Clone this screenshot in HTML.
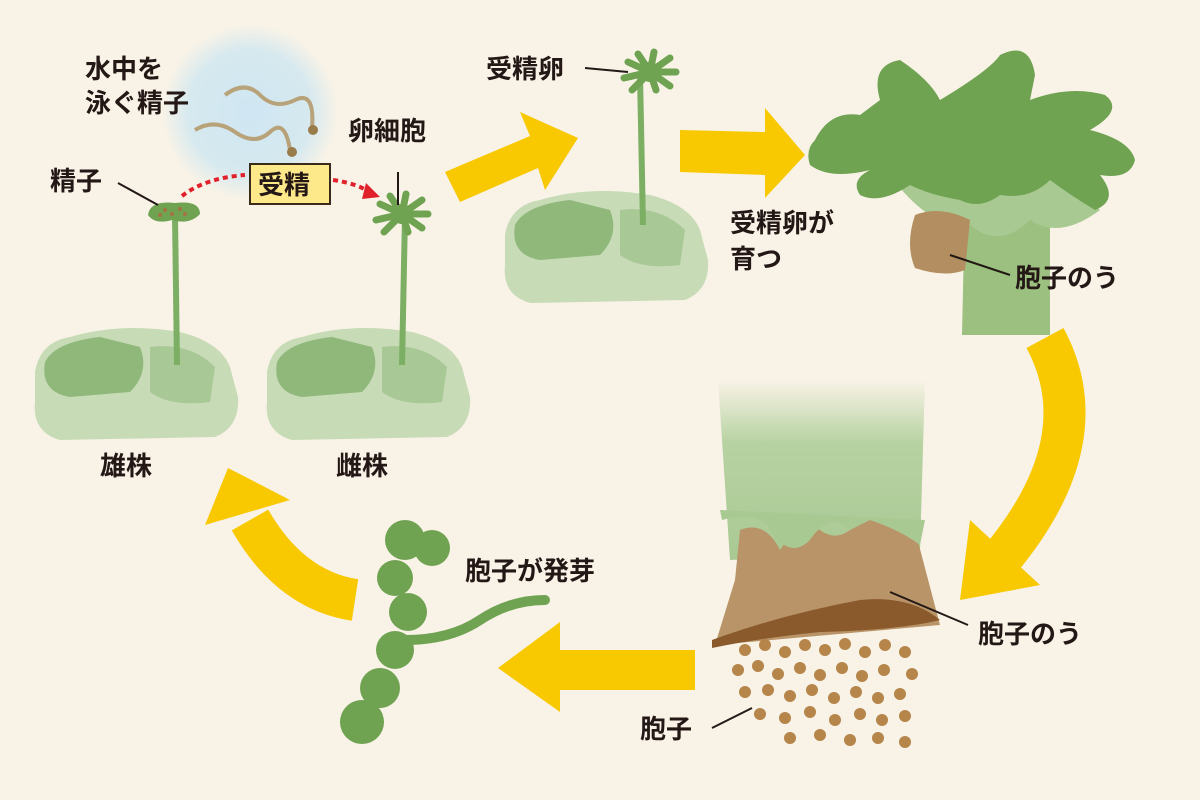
<!DOCTYPE html>
<html><head><meta charset="utf-8"><style>
html,body{margin:0;padding:0;background:#f9f3e7}
svg{display:block}
text{font-family:"Liberation Sans","Noto Sans CJK JP",sans-serif;font-size:26px;fill:#231815;font-weight:bold}
</style></head><body>
<svg width="1200" height="800" viewBox="0 0 1200 800" xmlns="http://www.w3.org/2000/svg">
<defs>
<radialGradient id="blue" cx="50%" cy="50%" r="50%">
<stop offset="0" stop-color="#cfe6f2"/><stop offset="0.7" stop-color="#d6e9ef"/><stop offset="1" stop-color="#f9f3e7"/>
</radialGradient>
<linearGradient id="fade" x1="0" y1="0" x2="0" y2="1">
<stop offset="0" stop-color="#f9f3e7"/><stop offset="0.35" stop-color="#b7d2a2"/><stop offset="1" stop-color="#a9c993"/>
</linearGradient>
<g id="star">
<path d="M0,-4 L-22,-14 M0,-4 L-12,-22 M0,-4 L4,-24 M0,-4 L20,-18 M0,-4 L26,-4 M0,-4 L20,10 M0,-4 L-26,2 M0,-4 L-18,14 M0,-4 L6,14" stroke="#6fa352" stroke-width="7" stroke-linecap="round"/>
<circle cx="0" cy="-4" r="10" fill="#6fa352"/>
</g>
<g id="thallus">
<path d="M-5,50 Q0,20 30,15 Q80,0 140,10 Q180,20 190,45 L198,75 Q200,105 175,115 L20,118 Q-8,110 -5,80 Z" fill="#c7dbb6"/>
<path d="M5,40 Q15,20 60,15 L100,25 Q110,50 90,70 L30,75 Q0,70 5,40 Z" fill="#8fb87a"/>
<path d="M110,25 Q150,20 175,45 L170,80 Q130,85 110,70 Z" fill="#a8c895"/>
</g>
</defs>
<rect width="1200" height="800" fill="#f9f3e7"/>
<circle cx="250" cy="112" r="88" fill="url(#blue)"/>
<path d="M225,95 Q245,80 260,95 T295,100 T312,128" stroke="#b8a27a" stroke-width="4" fill="none"/>
<circle cx="313" cy="130" r="5" fill="#9a7b4a"/>
<path d="M195,130 Q215,118 235,132 T270,132 T290,150" stroke="#b8a27a" stroke-width="4" fill="none"/>
<circle cx="292" cy="152" r="5" fill="#9a7b4a"/>
<use href="#thallus" x="40" y="322"/>
<use href="#thallus" x="272" y="322"/>
<path d="M175,215 L177,365" stroke="#7cae63" stroke-width="6"/>
<path d="M405,215 L402,365" stroke="#7cae63" stroke-width="6"/>
<path d="M148,215 Q150,200 175,203 Q200,200 200,214 Q190,225 172,220 Q155,225 148,215Z" fill="#6fa352"/>
<g fill="#a5733f"><circle cx="165" cy="210" r="2"/><circle cx="172" cy="214" r="2"/><circle cx="180" cy="209" r="2"/><circle cx="185" cy="214" r="2"/><circle cx="160" cy="215" r="2"/></g>
<use href="#star" x="402" y="218"/>
<path d="M182,196 Q205,178 245,175" stroke="#e0212b" stroke-width="4" stroke-dasharray="5,4" fill="none"/>
<path d="M333,180 Q355,183 370,192" stroke="#e0212b" stroke-width="4" stroke-dasharray="5,4" fill="none"/>
<path d="M366,183 L380,197 L362,199Z" fill="#e0212b"/>
<rect x="250" y="164" width="80" height="40" fill="#fde98a" stroke="#3a2a1a" stroke-width="2"/>
<text x="258" y="194">受精</text>
<line x1="398" y1="172" x2="398" y2="205" stroke="#231815" stroke-width="2"/>
<line x1="118" y1="183" x2="158" y2="205" stroke="#231815" stroke-width="2"/>
<text x="85" y="78">水中を</text>
<text x="85" y="112">泳ぐ精子</text>
<text x="50" y="190">精子</text>
<text x="348" y="140">卵細胞</text>
<text x="100" y="475">雄株</text>
<text x="336" y="475">雌株</text>
<path d="M445,172 L530,136 L520,112 L578,138 L545,190 L538,168 L460,202Z" fill="#f8c800"/>
<use href="#thallus" x="510" y="185"/>
<path d="M640,75 L643,225" stroke="#7cae63" stroke-width="6"/>
<use href="#star" x="650" y="76"/>
<line x1="585" y1="68" x2="628" y2="72" stroke="#231815" stroke-width="2"/>
<text x="486" y="78">受精卵</text>
<path d="M680,130 L765,132 L765,108 L805,155 L765,198 L765,175 L680,172Z" fill="#f8c800"/>
<path d="M965,200 L1050,200 L1050,335 L962,335Z" fill="#9cc080"/>
<path d="M890,175 Q930,230 970,225 Q1000,250 1030,220 Q1060,240 1100,210 L1060,170Z" fill="#a9c993"/>
<path d="M815,140 Q830,110 860,115 L880,100 Q870,65 900,60 Q930,80 940,100 Q990,70 1000,55 Q1030,40 1035,75 L1030,100 Q1070,85 1105,95 Q1125,110 1090,130 Q1130,140 1135,160 Q1130,180 1100,175 Q1120,200 1095,210 Q1070,195 1050,180 Q1030,200 1000,195 Q980,210 960,200 Q930,195 910,185 Q880,205 860,195 Q850,180 870,170 Q830,180 810,165 Q805,150 815,140Z" fill="#6fa352"/>
<path d="M915,215 Q940,205 970,220 L965,270 Q945,278 915,268 Q905,245 915,215Z" fill="#b28e60"/>
<line x1="950" y1="255" x2="1010" y2="275" stroke="#231815" stroke-width="2"/>
<text x="730" y="232">受精卵が</text>
<text x="730" y="268">育つ</text>
<text x="1015" y="287">胞子のう</text>
<path d="M1045,338 Q1100,440 1000,560" stroke="#f8c800" stroke-width="42" fill="none"/>
<path d="M970,520 L1040,585 L960,600Z" fill="#f8c800"/>
<path d="M718,380 L925,380 L920,550 L730,560Z" fill="url(#fade)"/>
<path d="M740,530 Q765,520 780,550 Q800,520 820,530 Q840,545 860,520 Q880,515 915,530 L940,625 L715,645 L735,580Z" fill="#b89468"/>
<path d="M722,520 Q760,510 770,530 Q790,560 810,540 Q830,510 850,530 L870,520 Q900,530 920,545 L925,520 L720,510Z" fill="#a9c993"/>
<path d="M712,640 Q780,615 860,600 Q910,595 940,620 Q900,630 820,632 Q760,638 712,648Z" fill="#8a5a2c"/>
<g fill="#b5854a">
<circle cx="745" cy="650" r="6"/><circle cx="765" cy="645" r="6"/><circle cx="785" cy="652" r="6"/><circle cx="805" cy="645" r="6"/><circle cx="825" cy="650" r="6"/><circle cx="845" cy="644" r="6"/><circle cx="865" cy="652" r="6"/><circle cx="885" cy="645" r="6"/><circle cx="905" cy="652" r="6"/>
<circle cx="738" cy="670" r="6"/><circle cx="758" cy="666" r="6"/><circle cx="778" cy="674" r="6"/><circle cx="800" cy="668" r="6"/><circle cx="820" cy="675" r="6"/><circle cx="842" cy="668" r="6"/><circle cx="862" cy="676" r="6"/><circle cx="884" cy="670" r="6"/><circle cx="912" cy="674" r="6"/>
<circle cx="745" cy="692" r="6"/><circle cx="768" cy="690" r="6"/><circle cx="790" cy="696" r="6"/><circle cx="812" cy="690" r="6"/><circle cx="834" cy="698" r="6"/><circle cx="856" cy="692" r="6"/><circle cx="878" cy="698" r="6"/><circle cx="900" cy="694" r="6"/>
<circle cx="760" cy="714" r="6"/><circle cx="785" cy="718" r="6"/><circle cx="810" cy="712" r="6"/><circle cx="835" cy="720" r="6"/><circle cx="860" cy="714" r="6"/><circle cx="882" cy="720" r="6"/><circle cx="905" cy="716" r="6"/>
<circle cx="790" cy="738" r="6"/><circle cx="820" cy="735" r="6"/><circle cx="850" cy="740" r="6"/><circle cx="878" cy="738" r="6"/><circle cx="905" cy="742" r="6"/>
</g>
<line x1="890" y1="592" x2="968" y2="625" stroke="#231815" stroke-width="2"/>
<line x1="712" y1="728" x2="752" y2="708" stroke="#231815" stroke-width="2"/>
<text x="978" y="643">胞子のう</text>
<text x="640" y="738">胞子</text>
<path d="M695,650 L560,650 L560,622 L498,668 L560,712 L560,690 L695,690Z" fill="#f8c800"/>
<path d="M405,640 Q450,640 480,620 Q510,600 545,600" stroke="#6fa352" stroke-width="10" fill="none" stroke-linecap="round"/>
<g fill="#6fa352">
<circle cx="405" cy="540" r="20"/><circle cx="432" cy="548" r="18"/><circle cx="395" cy="578" r="18"/><circle cx="408" cy="612" r="19"/><circle cx="395" cy="650" r="19"/><circle cx="380" cy="688" r="20"/><circle cx="362" cy="722" r="22"/>
</g>
<text x="465" y="580">胞子が発芽</text>
<path d="M355,600 Q290,590 250,520" stroke="#f8c800" stroke-width="42" fill="none"/>
<path d="M205,525 L228,468 L290,500Z" fill="#f8c800"/>
</svg>
</body></html>
